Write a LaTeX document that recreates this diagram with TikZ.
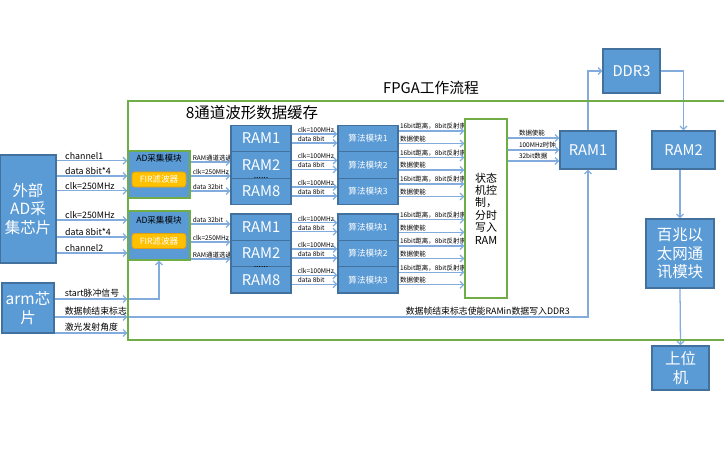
\documentclass[tikz,border=0pt]{standalone}
\usepackage{fontspec}
\setmainfont{Noto Sans CJK SC}
\usetikzlibrary{arrows.meta, positioning, calc, backgrounds}
\definecolor{bfill}{RGB}{91,155,213}
\definecolor{bline}{RGB}{65,113,156}
\definecolor{ggrn} {RGB}{112,173,71}
\definecolor{forng}{RGB}{255,192,0}
\definecolor{fline}{RGB}{225,160,20}
\definecolor{larr} {RGB}{130,172,222}
\newcommand\fsTiny{\fontsize{4.6}{5.2}\selectfont}
\newcommand\fsSmall{\fontsize{6.3}{7}\selectfont}
\newcommand\fsMid{\fontsize{6.1}{7}\selectfont}
\newcommand\fsSm{\fontsize{7.8}{8.8}\selectfont}
\newcommand\fsRam{\fontsize{10.5}{12}\selectfont}
\newcommand\fsBig{\fontsize{11}{13.3}\selectfont}
\newcommand\fsTitle{\fontsize{10.5}{12}\selectfont}
\newcommand\fsHead{\fontsize{11}{12}\selectfont}
\tikzset{
  % Blue block, white text
  BB/.style={rectangle,draw=bline,fill=bfill,text=white,
             minimum width=#1,inner sep=0pt,align=center,line width=0.8pt},
  BB/.default=1.5cm,
  % AD acquisition module, green edge
  AM/.style={rectangle,draw=ggrn,fill=bfill,minimum width=1.55cm,
             inner sep=0pt,line width=0.8pt},
  % Orange FIR tag
  FT/.style={rectangle,rounded corners=2pt,draw=fline,fill=forng,text=white,
             minimum width=1.35cm,minimum height=0.375cm,inner sep=0pt,
             font=\fsMid,line width=0.6pt},
  % State machine box
  SB/.style={rectangle,draw=ggrn,fill=white,minimum width=1.05cm,
             minimum height=4.475cm,align=center,inner sep=0pt,
             font=\fsSm,line width=0.8pt},
  % Signal name above a line
  LB/.style={font=#1,text=black,anchor=south west,inner sep=0.6pt},
  LB/.default=\fsTiny,
  % Arrows
  Arr/.style={-{Straight Barb[length=2.5pt,width=5pt]},line width=0.9pt,color=larr},
}
\begin{document}
\begin{tikzpicture}[x=0.025cm,y=-0.025cm]
      \useasboundingbox (0,0) rectangle (724,453);
      % FPGA frame, open to the right
      \draw[ggrn,line width=0.8pt] (724,101) -- (128,101) -- (128,340) -- (724,340);
      \node[font=\fsTitle] at (431,88) (fpga) {FPGA工作流程};
      \node[font=\fsHead] at (252,113) (buf) {8通道波形数据缓存};
      % Chips outside the FPGA
      \node[BB=1.4cm,minimum height=2.7cm,font=\fsBig] at (28,209) (ad)
            {外部\\AD采\\集芯片};
      \node[BB=1.3cm,minimum height=1.25cm,font=\fsBig] at (28,308) (arm)
            {arm芯\\片};
      % AD acquisition modules with FIR filter
      \node[AM,minimum height=1.175cm] at (159,174.5) (adm1) {};
      \node[font=\fsMid] at (159,158) (adt1) {AD采集模块};
      \node[FT] at (159,179.5) (fir1) {FIR滤波器};
      \node[AM,minimum height=1.225cm] at (159,235.5) (adm2) {};
      \node[font=\fsMid] at (159,220) (adt2) {AD采集模块};
      \node[FT] at (159,241) (fir2) {FIR滤波器};
      % RAM banks and algorithm blocks
      \foreach \n/\k/\yy in {1/1/138.5,2/2/165,8/3/191.5}{
        \node[BB=1.5cm,minimum height=0.66cm,font=\fsRam] at (261,\yy) (ru\n) {RAM\n};
        \node[BB=1.5cm,minimum height=0.66cm,font=\fsMid] at (368,\yy) (au\k) {算法模块\k};
      }
      \foreach \n/\k/\yy in {1/1/227.2,2/2/253.5,8/3/279.8}{
        \node[BB=1.5cm,minimum height=0.66cm,font=\fsRam] at (261,\yy) (rl\n) {RAM\n};
        \node[BB=1.5cm,minimum height=0.66cm,font=\fsMid] at (368,\yy) (al\k) {算法模块\k};
      }
      \node[font=\fsMid,anchor=base] at (261,179) (du) {......};
      \node[font=\fsMid,anchor=base] at (261,267.5) (dl) {......};
      % State machine
      \node[SB] at (486,208.5) (sm) {状态\\机控\\制，\\分时\\写入\\RAM};
      % Right column
      \node[BB=1.4cm,minimum height=0.95cm,font=\fsRam] at (588,150) (rr1) {RAM1};
      \node[BB=1.425cm,minimum height=1.1cm,font=\fsRam] at (631.5,71) (ddr) {DDR3};
      \node[BB=1.575cm,minimum height=0.95cm,font=\fsRam] at (683.5,150) (rr2) {RAM2};
      \node[BB=1.7cm,minimum height=1.725cm,font=\fsBig] at (680,253.5) (eth)
            {百兆以\\太网通\\讯模块};
      \node[BB=1.425cm,minimum height=1.1cm,font=\fsBig] at (680.5,368) (pc)
            {上位\\机};
      % All connectors behind the blocks
      \begin{scope}[on background layer]
        \foreach \yy/\txt in {160.7/channel1,176/data 8bit*4,190.7/clk=250MHz,
                              220/clk=250MHz}
          \draw[Arr] (ad.east |- 0,\yy) -- node[LB=\fsSmall,pos=0,xshift=0.18cm]{\txt}
                (adm1.west |- 0,\yy);
        \foreach \yy/\txt in {237/data 8bit*4,253/channel2}
          \draw[Arr] (ad.east |- 0,\yy) -- node[LB=\fsSmall,pos=0,xshift=0.18cm]{\txt}
                (adm2.west |- 0,\yy);
        \foreach \yy/\txt in {162/RAM通道选通,176/clk=250MHz,191/data 32bit}
          \draw[Arr] (adm1.east |- 0,\yy) -- node[LB,pos=0,xshift=0.02cm]{\txt}
                (ru2.west |- 0,\yy);
        \foreach \yy/\txt in {224/data 32bit,242/clk=250MHz,259/RAM通道选通}
          \draw[Arr] (adm2.east |- 0,\yy) -- node[LB,pos=0,xshift=0.02cm]{\txt}
                (rl2.west |- 0,\yy);
        \foreach \r/\a in {ru1/au1,ru2/au2,ru8/au3,rl1/al1,rl2/al2,rl8/al3}{
          \draw[Arr] ($(\r.east)+(0,-4.5)$) -- node[LB,pos=0,xshift=0.12cm]{clk=100MHz}
                ($(\a.west)+(0,-4.5)$);
          \draw[Arr] ($(\r.east)+(0,4.5)$) -- node[LB,pos=0,xshift=0.12cm]{data 8bit}
                ($(\a.west)+(0,4.5)$);
        }
        \foreach \a in {au1,au2,au3,al1,al2,al3}{
          \draw[Arr] ($(\a.east)+(0,-7.5)$) -- node[LB,pos=0]{16bit距离，8bit反射率}
                ($(\a.east -| sm.west)+(0,-7.5)$);
          \draw[Arr] ($(\a.east)+(0,5)$) -- node[LB,pos=0]{数据使能}
                ($(\a.east -| sm.west)+(0,5)$);
        }
        \foreach \yy/\txt in {138/数据使能,150/100MHz时钟,161/32bit数据}
          \draw[Arr] (sm.east |- 0,\yy) -- node[LB,pos=0,xshift=0.25cm]{\txt}
                (rr1.west |- 0,\yy);
        % arm signals
        \coordinate (st) at (adm2.west |- 0,299);
        \coordinate (fe) at (adm2.west |- 0,317);
        \draw[Arr] (arm.east |- st) -- node[LB=\fsSmall,pos=0,xshift=0.22cm]{start脉冲信号} (st);
        \draw[Arr] (st) -| (adm2.south);
        \draw[Arr] (arm.east |- fe) -- node[LB=\fsSmall,pos=0,xshift=0.22cm]{数据帧结束标志} (fe);
        \draw[Arr] (fe) -- node[LB=\fsSmall,pos=1,anchor=south east,xshift=-0.42cm]
                {数据帧结束标志使能RAMin数据写入DDR3} (fe -| rr1.south) -- (rr1.south);
        \draw[Arr] (arm.east |- 0,333) -- node[LB=\fsSmall,pos=0,xshift=0.22cm]{激光发射角度}
                (adm2.west |- 0,333);
        % DDR3 and Ethernet path
        \draw[Arr] (rr1.north) |- (ddr.west);
        \draw[Arr] (ddr.east) -| (rr2.north);
        \draw[Arr] (eth.north |- rr2.south) -- (eth.north);
        \draw[Arr] (eth.south) -- (pc.north);
      \end{scope}
    \end{tikzpicture}
\end{document}
